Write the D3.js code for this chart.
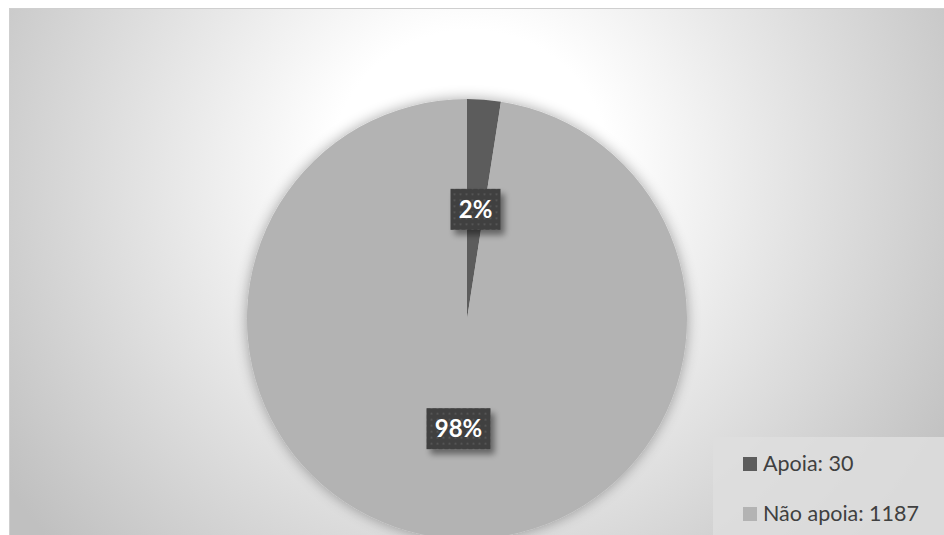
<!DOCTYPE html>
<html>
<head>
<meta charset="utf-8">
<script src="https://cdn.jsdelivr.net/npm/d3@7"></script>
<style>
  body { margin: 0; background: #fff; }
  svg { display: block; }
</style>
</head>
<body>
<script>
let categories = ["Apoia", "Não apoia"];
let values = [30, 1187];
let colors = ["#5c5c5c", "#b3b3b3"];

let width = 944;
let height = 535;
let cx = 467;
let cy = 319;
let radius = 220;

let svg = d3.select("body")
  .append("svg")
  .attr("width", width)
  .attr("height", height)
  .attr("viewBox", [0, 0, width, height]);

let defs = svg.append("defs");

// background gradient
let bg = defs.append("radialGradient")
  .attr("id", "bg")
  .attr("gradientUnits", "userSpaceOnUse")
  .attr("cx", 470).attr("cy", 170).attr("r", 560);
bg.append("stop").attr("offset", 0).attr("stop-color", "#ffffff");
bg.append("stop").attr("offset", 0.25).attr("stop-color", "#ffffff");
bg.append("stop").attr("offset", 1).attr("stop-color", "#c0c0c0");

// soft shadow for pie
let sh = defs.append("filter")
  .attr("id", "pieShadow")
  .attr("x", -0.2).attr("y", -0.2).attr("width", 1.4).attr("height", 1.4);
sh.append("feGaussianBlur").attr("in", "SourceAlpha").attr("stdDeviation", 7);
sh.append("feOffset").attr("dx", 0).attr("dy", 0).attr("result", "b");
sh.append("feComponentTransfer").append("feFuncA").attr("type", "linear").attr("slope", 0.35);
let shm = sh.append("feMerge");
shm.append("feMergeNode");
shm.append("feMergeNode").attr("in", "SourceGraphic");

// label box shadow
let lsh = defs.append("filter")
  .attr("id", "boxShadow")
  .attr("x", -0.3).attr("y", -0.3).attr("width", 1.7).attr("height", 1.8);
lsh.append("feGaussianBlur").attr("in", "SourceAlpha").attr("stdDeviation", 3);
lsh.append("feOffset").attr("dx", 4).attr("dy", 5);
lsh.append("feComponentTransfer").append("feFuncA").attr("type", "linear").attr("slope", 0.45);
let lshm = lsh.append("feMerge");
lshm.append("feMergeNode");
lshm.append("feMergeNode").attr("in", "SourceGraphic");

// dotted pattern for label boxes
let pat = defs.append("pattern")
  .attr("id", "dots")
  .attr("patternUnits", "userSpaceOnUse")
  .attr("width", 6).attr("height", 6);
pat.append("rect").attr("width", 6).attr("height", 6).attr("fill", "#3f3f3f");
pat.append("rect").attr("x", 2).attr("y", 2).attr("width", 2).attr("height", 2).attr("fill", "#555555");

// chart area
svg.append("rect")
  .attr("x", 9.5).attr("y", 8.5)
  .attr("width", width - 9).attr("height", height - 8)
  .attr("fill", "url(#bg)")
  .attr("stroke", "#cfcfcf");

let pie = d3.pie().sort(null).value(d => d);
let arcs = pie(values);

let arc = d3.arc().innerRadius(0).outerRadius(radius);

let chart = svg.append("g")
  .attr("transform", `translate(${cx},${cy})`);

chart.append("g")
  .attr("filter", "url(#pieShadow)")
  .selectAll("path")
  .data(arcs)
  .join("path")
  .attr("d", arc)
  .attr("fill", (d, i) => colors[i]);

let total = d3.sum(values);

// data labels
let labels = chart.selectAll("g.lbl")
  .data(arcs)
  .join("g")
  .attr("class", "lbl")
  .attr("transform", d => `translate(${arc.centroid(d)})`);

labels.each(function(d) {
  let g = d3.select(this);
  let txt = Math.round(d.value / total * 100) + "%";
  let w = txt.length === 2 ? 50 : 64;
  g.append("rect")
    .attr("x", -w / 2).attr("y", -20.5)
    .attr("width", w).attr("height", 41)
    .attr("fill", "url(#dots)")
    .attr("filter", "url(#boxShadow)");
  g.append("text")
    .attr("text-anchor", "middle")
    .attr("dy", "0.35em")
    .attr("fill", "#ffffff")
    .attr("font-family", "Lato, 'Open Sans', sans-serif")
    .attr("font-weight", "bold")
    .attr("font-size", 24)
    .text(txt);
});

// legend
let legend = svg.append("g");
legend.append("rect")
  .attr("x", 713).attr("y", 437)
  .attr("width", width - 713).attr("height", height - 437)
  .attr("fill", "#dedede")
  .attr("fill-opacity", 0.85);

let items = legend.selectAll("g.item")
  .data(categories)
  .join("g")
  .attr("class", "item")
  .attr("transform", (d, i) => `translate(743,${457 + i * 50})`);

items.append("rect")
  .attr("width", 14).attr("height", 14)
  .attr("fill", (d, i) => colors[i]);

items.append("text")
  .attr("x", 20).attr("y", 14)
  .attr("fill", "#404040")
  .attr("font-family", "Lato, 'Open Sans', sans-serif")
  .attr("font-size", 21.5)
  .text((d, i) => `${d}: ${values[i]}`);
</script>
</body>
</html>
